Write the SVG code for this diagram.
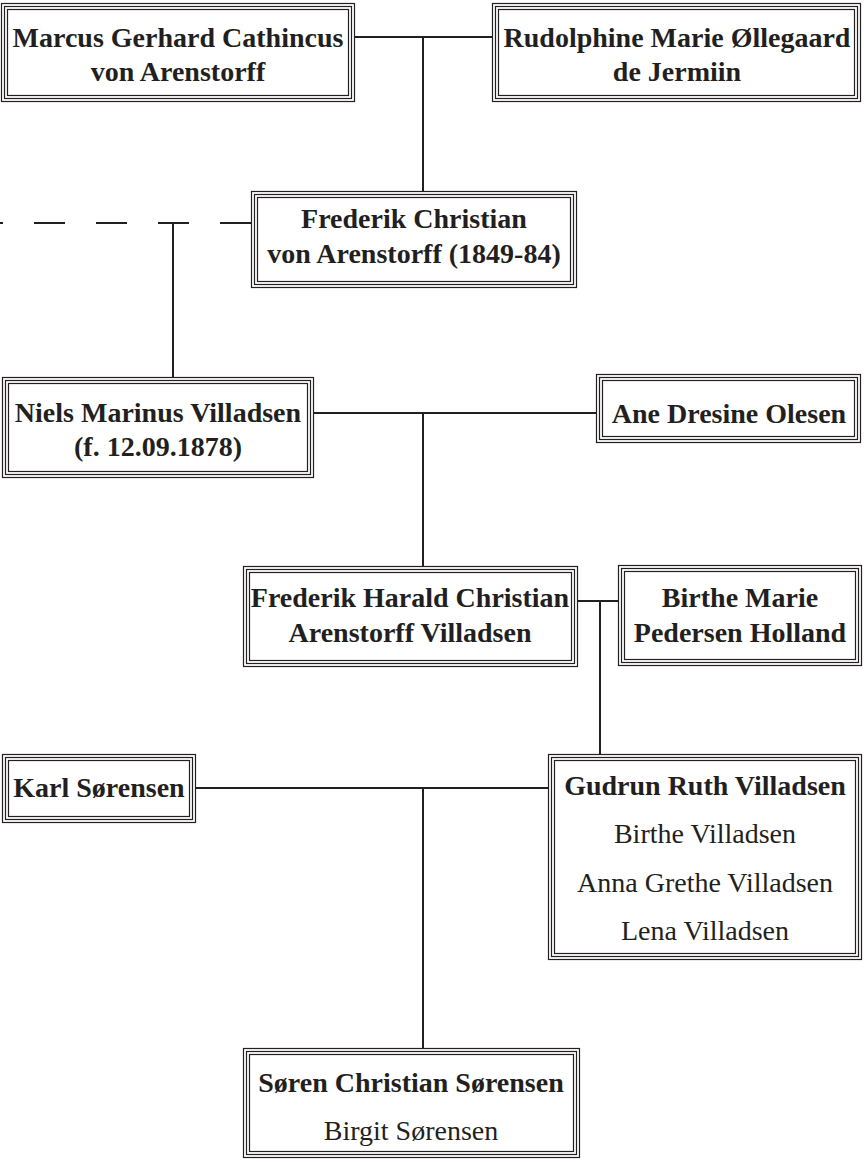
<svg xmlns="http://www.w3.org/2000/svg" width="864" height="1162" viewBox="0 0 864 1162">
<defs>
<style>
.b{fill:#fff;stroke:#231f20;stroke-width:1.2}
.i{fill:none;stroke:#231f20;stroke-width:1.2}
.t{font-family:"Liberation Serif","Times New Roman",serif;font-size:28px;fill:#231f20;text-anchor:middle}
.bd{font-weight:bold}
.c{fill:none;stroke:#231f20;stroke-width:2}
</style>
</defs>
<rect width="864" height="1162" fill="#fff"/>
<g id="connectors">
<line class="c" x1="355" y1="37" x2="492" y2="37"/>
<line class="c" x1="423" y1="37" x2="423" y2="191"/>
<line class="c" x1="251" y1="223" x2="0" y2="223" stroke-dasharray="31 31"/>
<line class="c" x1="173" y1="223" x2="173" y2="377"/>
<line class="c" x1="314" y1="413" x2="596" y2="413"/>
<line class="c" x1="423" y1="413" x2="423" y2="566"/>
<line class="c" x1="578" y1="601" x2="618" y2="601"/>
<line class="c" x1="600" y1="601" x2="600" y2="754"/>
<line class="c" x1="196" y1="788" x2="548" y2="788"/>
<line class="c" x1="423" y1="788" x2="423" y2="1048"/>
</g>
<g id="marcus">
<rect class="b" x="1.5" y="3.5" width="353" height="98"/>
<rect class="i" x="4.5" y="6.5" width="347" height="92"/>
<rect class="i" x="7.5" y="9.5" width="341" height="86"/>
<text class="t bd" x="178" y="47">Marcus Gerhard Cathincus</text>
<text class="t bd" x="178" y="81">von Arenstorff</text>
</g>
<g id="rudolphine">
<rect class="b" x="492.5" y="3.5" width="368" height="98"/>
<rect class="i" x="495.5" y="6.5" width="362" height="92"/>
<rect class="i" x="498.5" y="9.5" width="356" height="86"/>
<text class="t bd" x="677" y="47">Rudolphine Marie Øllegaard</text>
<text class="t bd" x="677" y="81">de Jermiin</text>
</g>
<g id="frederik-christian">
<rect class="b" x="251.5" y="191.5" width="325" height="96"/>
<rect class="i" x="254.5" y="194.5" width="319" height="90"/>
<rect class="i" x="257.5" y="197.5" width="313" height="84"/>
<text class="t bd" x="414" y="228">Frederik Christian</text>
<text class="t bd" x="414" y="263">von Arenstorff (1849-84)</text>
</g>
<g id="niels">
<rect class="b" x="2.5" y="377.5" width="311" height="100"/>
<rect class="i" x="5.5" y="380.5" width="305" height="94"/>
<rect class="i" x="8.5" y="383.5" width="299" height="88"/>
<text class="t bd" x="158" y="422">Niels Marinus Villadsen</text>
<text class="t bd" x="158" y="456">(f. 12.09.1878)</text>
</g>
<g id="ane">
<rect class="b" x="596.5" y="374.5" width="264" height="68"/>
<rect class="i" x="599.5" y="377.5" width="258" height="62"/>
<rect class="i" x="602.5" y="380.5" width="252" height="56"/>
<text class="t bd" x="729" y="423">Ane Dresine Olesen</text>
</g>
<g id="frederik-harald">
<rect class="b" x="243.5" y="566.5" width="334" height="100"/>
<rect class="i" x="246.5" y="569.5" width="328" height="94"/>
<rect class="i" x="249.5" y="572.5" width="322" height="88"/>
<text class="t bd" x="410" y="607">Frederik Harald Christian</text>
<text class="t bd" x="410" y="642">Arenstorff Villadsen</text>
</g>
<g id="birthe-marie">
<rect class="b" x="618.5" y="565.5" width="243" height="100"/>
<rect class="i" x="621.5" y="568.5" width="237" height="94"/>
<rect class="i" x="624.5" y="571.5" width="231" height="88"/>
<text class="t bd" x="740" y="607">Birthe Marie</text>
<text class="t bd" x="740" y="642">Pedersen Holland</text>
</g>
<g id="karl">
<rect class="b" x="2.5" y="754.5" width="193" height="68"/>
<rect class="i" x="5.5" y="757.5" width="187" height="62"/>
<rect class="i" x="8.5" y="760.5" width="181" height="56"/>
<text class="t bd" x="99" y="797">Karl Sørensen</text>
</g>
<g id="gudrun">
<rect class="b" x="548.5" y="754.5" width="313" height="205"/>
<rect class="i" x="551.5" y="757.5" width="307" height="199"/>
<rect class="i" x="554.5" y="760.5" width="301" height="193"/>
<text class="t bd" x="705" y="795">Gudrun Ruth Villadsen</text>
<text class="t" x="705" y="843">Birthe Villadsen</text>
<text class="t" x="705" y="892">Anna Grethe Villadsen</text>
<text class="t" x="705" y="940">Lena Villadsen</text>
</g>
<g id="soren">
<rect class="b" x="243.5" y="1048.5" width="336" height="109"/>
<rect class="i" x="246.5" y="1051.5" width="330" height="103"/>
<rect class="i" x="249.5" y="1054.5" width="324" height="97"/>
<text class="t bd" x="411" y="1092">Søren Christian Sørensen</text>
<text class="t" x="411" y="1140">Birgit Sørensen</text>
</g>
</svg>
